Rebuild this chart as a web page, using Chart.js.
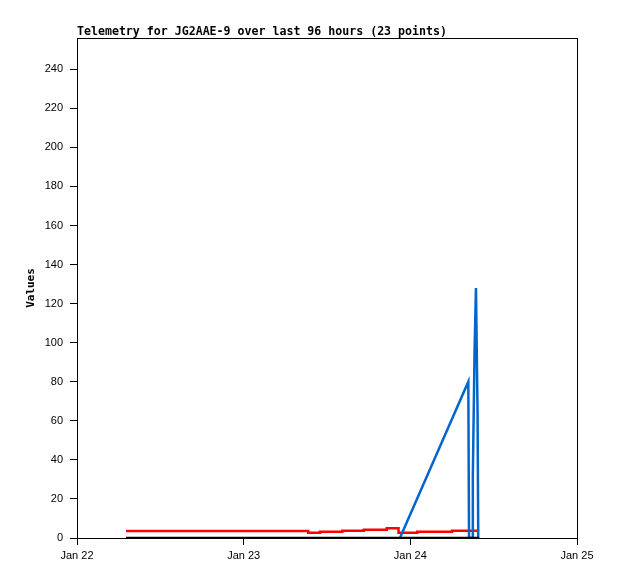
<!DOCTYPE html>
<html>
<head>
<meta charset="utf-8">
<script src="https://cdn.jsdelivr.net/npm/chart.js@4/dist/chart.umd.min.js"></script>
<style>
  body { margin: 0; background: #fff; }
  canvas { display: block; }
</style>
</head>
<body>
<canvas id="telem" width="618" height="579"></canvas>
<script>
// hours since Jan 22 00:00
const tickHours  = [0, 24, 48, 72];
const tickLabels = ['Jan 22', 'Jan 23', 'Jan 24', 'Jan 25'];

// red channel (stepped)
const redHours  = [7.06, 33.3, 35.0, 38.2, 41.3, 44.6, 46.3, 49.0, 54.0, 57.9];
const redValues = [3.6, 2.7, 3.2, 3.7, 4.2, 5.0, 2.7, 3.2, 3.7, 3.7];

// blue channel
const blueHours  = [46.5, 56.35, 56.45, 56.95, 57.0, 57.25, 57.45, 57.68, 57.78];
const blueValues = [0, 80, 0, 0, 32, 96, 128, 64, 0];

// black channel
const blackHours  = [7.06, 57.9];
const blackValues = [0, 0];

const TITLE = 'Telemetry for JG2AAE-9 over last 96 hours (23 points)';
const YLABEL = 'Values';

const pts = (xs, ys) => xs.map((x, i) => ({ x, y: ys[i] }));

/* ---------- 標題 / 外框 ---------- */
const frame = {
    id: 'frame',
    afterDraw(c) {
        const { ctx, chartArea: a } = c;
        ctx.save();
        ctx.strokeStyle = '#000';
        ctx.lineWidth = 1;
        ctx.strokeRect(a.left + 0.5, a.top + 0.5, a.right - a.left, a.bottom - a.top);

        ctx.fillStyle = '#000';
        ctx.font = 'bold 11.6px "DejaVu Sans Mono"';
        ctx.textBaseline = 'alphabetic';
        ctx.textAlign = 'left';
        ctx.fillText(TITLE, a.left, 35);

        ctx.font = 'bold 11px "DejaVu Sans Mono"';
        ctx.translate(31, (a.top + a.bottom) / 2);
        ctx.rotate(-Math.PI / 2);
        ctx.textAlign = 'center';
        ctx.textBaseline = 'middle';
        ctx.fillText(YLABEL, 0, 0);
        ctx.restore();
    }
};

const line = (data, color, width, order, stepped) => ({
    data, borderColor: color, borderWidth: width, order,
    stepped: stepped || false, pointRadius: 0, fill: false, tension: 0
});

new Chart(document.getElementById('telem').getContext('2d'), {
    type: 'line',
    data: {
        datasets: [
            line(pts(blackHours, blackValues), '#000000', 2.5, 0),
            line(pts(blueHours, blueValues), '#0066cc', 2.5, 1),
            line(pts(redHours, redValues), '#ff0000', 2.5, 2, true)
        ]
    },
    options: {
        responsive: false,
        animation: false,
        layout: { padding: { top: 38, right: 41, left: 0, bottom: 0 } },
        plugins: { legend: { display: false }, tooltip: { enabled: false } },
        scales: {
            x: {
                type: 'linear', min: 0, max: 72,
                afterFit: s => { s.height = 41; },
                afterBuildTicks: s => { s.ticks = tickHours.map(v => ({ value: v })); },
                grid: { drawOnChartArea: false, tickLength: 7, tickColor: '#000' },
                border: { color: '#000' },
                ticks: {
                    padding: 4, color: '#000',
                    font: { family: '"Liberation Sans", Arial', size: 11 },
                    maxRotation: 0,
                    callback: v => tickLabels[tickHours.indexOf(v)]
                }
            },
            y: {
                min: 0, max: 256,
                afterFit: s => { s.width = 77; },
                grid: { drawOnChartArea: false, tickLength: 7, tickColor: '#000' },
                border: { color: '#000' },
                ticks: {
                    stepSize: 20, includeBounds: false, padding: 7, color: '#000',
                    font: { family: '"Liberation Sans", Arial', size: 11 }
                }
            }
        }
    },
    plugins: [frame]
});
</script>
</body>
</html>
